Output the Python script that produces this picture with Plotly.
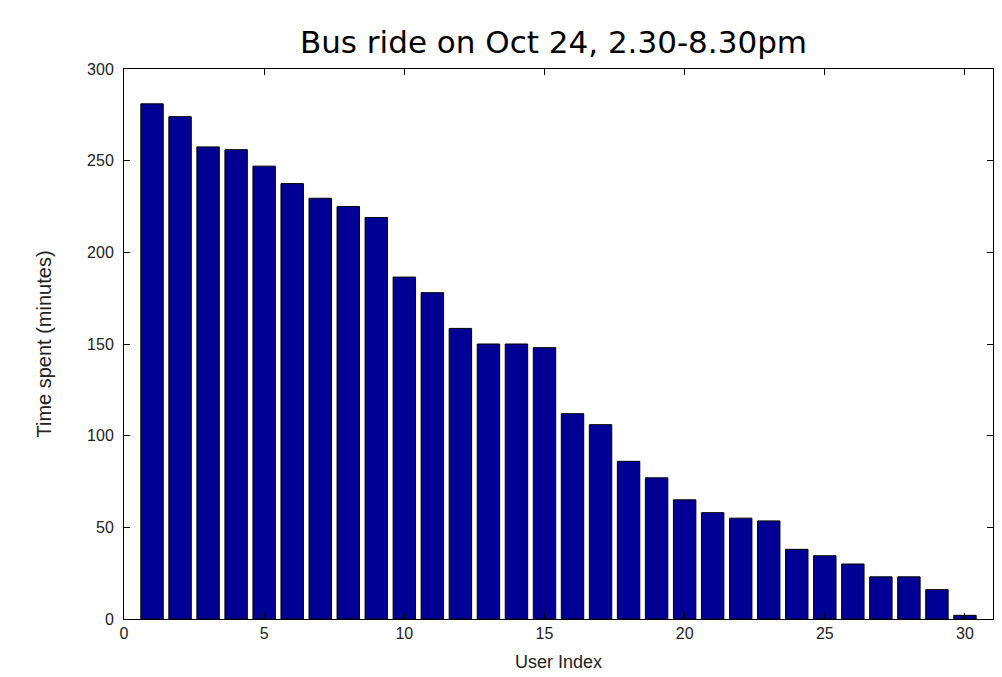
import plotly.graph_objects as go

user_index = list(range(1, 31))
time_spent = [281, 274, 257.5, 256, 247, 237.5, 229.5, 225, 219, 186.5,
              178, 158.5, 150, 150, 148, 112, 106, 86, 77, 65,
              58, 55, 53.5, 38, 34.5, 30, 23, 23, 16, 2]
x_ticks = [0, 5, 10, 15, 20, 25, 30]
y_ticks = [0, 50, 100, 150, 200, 250, 300]

fig = go.Figure()
fig.add_trace(go.Bar(
    x=user_index, y=time_spent, width=0.8,
    marker=dict(color="rgb(0,0,148)", line=dict(color="black", width=1)),
    showlegend=False,
))

axis_common = dict(
    showline=True, linecolor="black", linewidth=1, mirror="ticks",
    ticks="inside", ticklen=6, tickwidth=1, tickcolor="black",
    showgrid=False, zeroline=False, automargin=False,
    tickfont=dict(family="Liberation Sans", size=16, color="#222"),
)

fig.update_layout(
    width=1002, height=677,
    paper_bgcolor="white", plot_bgcolor="white",
    margin=dict(l=116, r=17, t=61, b=66),
    title=dict(text="Bus ride on Oct 24, 2.30-8.30pm",
               font=dict(family="DejaVu Sans", size=31, color="black"),
               x=0.5444, xanchor="center", y=0.949, yanchor="middle"),
    xaxis=dict(range=[0, 31], tickvals=x_ticks, ticklabelstandoff=0,
               title=dict(text="User Index", standoff=14,
                          font=dict(family="Liberation Sans", size=18, color="#222")),
               **axis_common),
    yaxis=dict(range=[0, 300], tickvals=y_ticks, ticklabelstandoff=6,
               title=dict(text="Time spent (minutes)", standoff=30,
                          font=dict(family="Liberation Sans", size=20, color="#222")),
               **axis_common),
    bargap=0.2,
)

fig.write_html("out.html")
